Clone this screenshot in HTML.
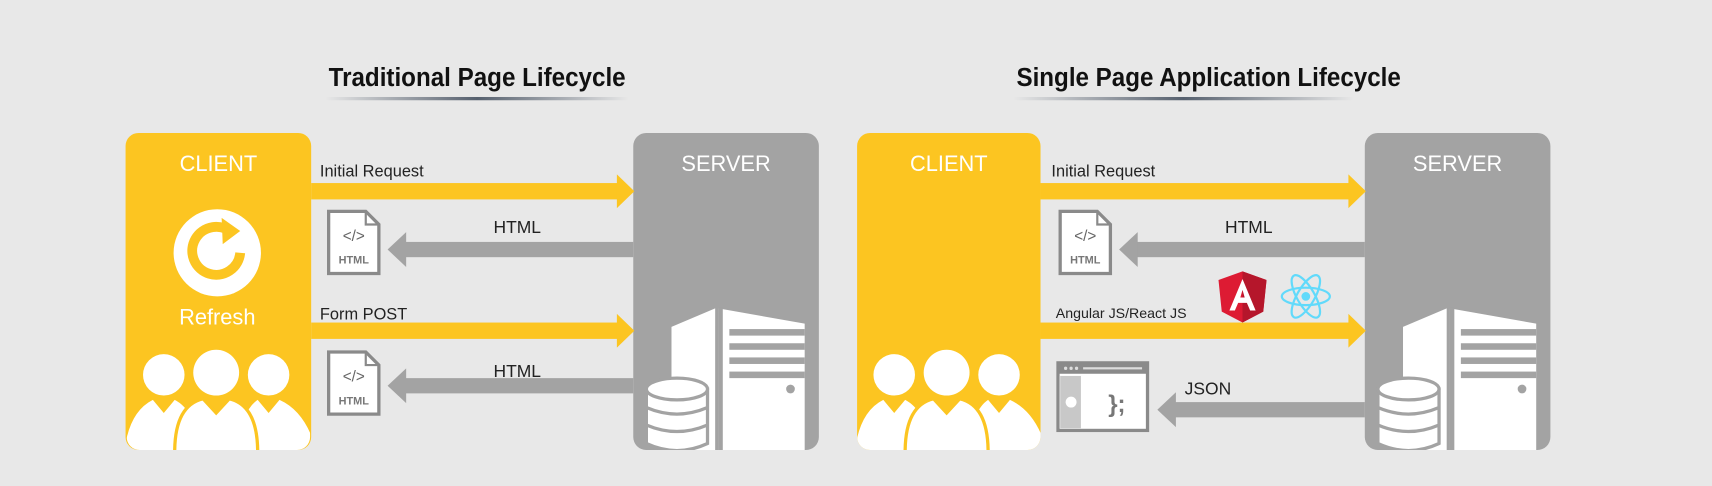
<!DOCTYPE html>
<html><head><meta charset="utf-8"><style>
html,body{margin:0;padding:0;background:#e8e8e8;}
svg{display:block}
</style></head><body>
<svg width="1712" height="486" viewBox="0 0 1568 446" preserveAspectRatio="none" xmlns="http://www.w3.org/2000/svg" font-family="Liberation Sans, sans-serif">
<defs>
<linearGradient id="ul" x1="0" x2="1" y1="0" y2="0">
<stop offset="0" stop-color="#e8e8e8"/><stop offset="0.5" stop-color="#56606e"/><stop offset="1" stop-color="#e8e8e8"/>
</linearGradient>
<clipPath id="box"><rect x="0" y="0" width="168" height="291" rx="12"/></clipPath>
<clipPath id="sbox"><rect x="0" y="0" width="170" height="291" rx="12"/></clipPath>
<g id="doc">
<path d="M0 0 H34 L46 12 V57 H0 Z" fill="#fff" stroke="#8a8a8a" stroke-width="3"/>
<path d="M34 0 V12 H46" fill="none" stroke="#8a8a8a" stroke-width="2"/>
<text x="23" y="27" text-anchor="middle" font-size="14" fill="#666">&lt;/&gt;</text>
<text x="23" y="48" text-anchor="middle" font-size="10" font-weight="bold" fill="#777">HTML</text>
</g>
<g id="people">
<g clip-path="url(#box)">
<circle cx="34" cy="222" r="19" fill="#fff"/>
<circle cx="82" cy="220" r="21" fill="#fff"/>
<circle cx="130" cy="222" r="19" fill="#fff"/>
<path d="M0 291 V280 Q6 254 24 245 L34 257 L44 245 Q62 254 70 291 Z" fill="#fff"/>
<path d="M100 291 Q106 254 120 245 L130 257 L140 245 Q160 254 170 280 V291 Z" fill="#fff"/>
<path d="M44 293 Q44 250 70 244 L82 257 L94 244 Q120 250 120 293 Z" fill="#fff" stroke="#fcc521" stroke-width="3"/>
</g>
</g>
<g id="server">
<rect x="0" y="0" width="170" height="291" rx="12" fill="#a3a3a3"/>
<text x="85" y="35" text-anchor="middle" font-size="20" fill="#fff">SERVER</text>
<g clip-path="url(#sbox)">
<path d="M35 178 L75 161 V291 H35 Z" fill="#fff"/>
<path d="M78 161 L157 175 V291 H78 Z" fill="#fff"/>
<rect x="88" y="180" width="69" height="6" fill="#a3a3a3"/>
<rect x="88" y="193" width="69" height="6" fill="#a3a3a3"/>
<rect x="88" y="206" width="69" height="6" fill="#a3a3a3"/>
<rect x="88" y="219" width="69" height="6" fill="#a3a3a3"/>
<rect x="78" y="160" width="4" height="131" fill="#a3a3a3"/>
<circle cx="144" cy="235" r="4" fill="#a3a3a3"/>
<g fill="#fff" stroke="#a3a3a3" stroke-width="3">
<path d="M12 235 V285 Q40 298 68 285 V235 Z"/>
<ellipse cx="40" cy="235" rx="28" ry="10"/>
<path d="M12 252 Q40 264 68 252" fill="none"/>
<path d="M12 268 Q40 280 68 268" fill="none"/>
</g>
</g>
</g>
</defs>
<rect width="1568" height="446" fill="#e8e8e8"/>

<text x="437" y="79" text-anchor="middle" font-size="24" font-weight="bold" fill="#111" textLength="272" lengthAdjust="spacingAndGlyphs">Traditional Page Lifecycle</text>
<rect x="298" y="89" width="278" height="3" fill="url(#ul)"/>
<text x="1107" y="79" text-anchor="middle" font-size="24" font-weight="bold" fill="#111" textLength="352" lengthAdjust="spacingAndGlyphs">Single Page Application Lifecycle</text>
<rect x="928" y="89" width="312" height="3" fill="url(#ul)"/>

<!-- LEFT -->
<rect x="115" y="122" width="170" height="291" rx="12" fill="#fcc521"/>
<text x="200" y="157" text-anchor="middle" font-size="20" fill="#fff">CLIENT</text>
<circle cx="199" cy="232" r="40" fill="#fff"/>
<path d="M213 214 A22 22 0 1 0 220 232" fill="none" stroke="#fcc521" stroke-width="9"/>
<path d="M203 200 L220 212 L204 224 Z" fill="#fcc521"/>
<text x="199" y="298" text-anchor="middle" font-size="20" fill="#fff">Refresh</text>
<use href="#people" x="116" y="122"/>
<use href="#server" x="580" y="122"/>

<text x="293" y="162" font-size="15" fill="#222">Initial Request</text>
<rect x="285" y="168" width="282" height="15" fill="#fcc521"/><path d="M565 160 L581 175.5 L565 191 Z" fill="#fcc521"/>
<text x="452" y="214" font-size="16" fill="#222">HTML</text>
<rect x="370" y="222" width="210" height="14" fill="#a3a3a3"/><path d="M372 213 L355 229 L372 245 Z" fill="#a3a3a3"/>
<use href="#doc" x="301" y="194"/>
<text x="293" y="293" font-size="15" fill="#222">Form POST</text>
<rect x="285" y="296" width="282" height="15" fill="#fcc521"/><path d="M565 288 L581 303.5 L565 319 Z" fill="#fcc521"/>
<text x="452" y="346" font-size="16" fill="#222">HTML</text>
<rect x="370" y="347" width="210" height="14" fill="#a3a3a3"/><path d="M372 338 L355 354 L372 370 Z" fill="#a3a3a3"/>
<use href="#doc" x="301" y="323"/>

<!-- RIGHT -->
<rect x="785" y="122" width="168" height="291" rx="12" fill="#fcc521"/>
<text x="869" y="157" text-anchor="middle" font-size="20" fill="#fff">CLIENT</text>
<use href="#people" x="785" y="122"/>
<use href="#server" x="1250" y="122"/>

<text x="963" y="162" font-size="15" fill="#222">Initial Request</text>
<rect x="953" y="168" width="284" height="15" fill="#fcc521"/><path d="M1235 160 L1251 175.5 L1235 191 Z" fill="#fcc521"/>
<text x="1122" y="214" font-size="16" fill="#222">HTML</text>
<rect x="1040" y="222" width="210" height="14" fill="#a3a3a3"/><path d="M1042 213 L1025 229 L1042 245 Z" fill="#a3a3a3"/>
<use href="#doc" x="971" y="194"/>

<text x="967" y="292" font-size="13" fill="#222">Angular JS/React JS</text>
<rect x="953" y="296" width="284" height="15" fill="#fcc521"/><path d="M1235 288 L1251 303.5 L1235 319 Z" fill="#fcc521"/>
<path d="M1138 249 L1160 257 L1157 286 L1138 296 L1119 286 L1116 257 Z" fill="#dd1b33"/>
<path d="M1138 249 L1160 257 L1157 286 L1138 296 Z" fill="#b5162b"/>
<path d="M1138 256 L1126 285 H1131 L1134 278 H1142 L1145 285 H1150 Z M1136 273 L1138 266 L1140 273 Z" fill="#fff" fill-rule="evenodd"/>
<g transform="translate(1196 272)" fill="none" stroke="#61dafb" stroke-width="2">
<ellipse rx="22" ry="8"/><ellipse rx="22" ry="8" transform="rotate(60)"/><ellipse rx="22" ry="8" transform="rotate(120)"/>
<circle r="4" fill="#61dafb" stroke="none"/>
</g>
<rect x="969" y="333" width="82" height="62" fill="#fff" stroke="#8a8a8a" stroke-width="3"/>
<rect x="969" y="333" width="82" height="10" fill="#8a8a8a"/>
<circle cx="976" cy="338" r="1.5" fill="#ddd"/><circle cx="981" cy="338" r="1.5" fill="#ddd"/><circle cx="986" cy="338" r="1.5" fill="#ddd"/>
<rect x="992" y="337" width="54" height="2" fill="#ddd"/>
<rect x="971" y="345" width="19" height="48" fill="#c8c8c8"/>
<circle cx="981" cy="369" r="5" fill="#fff"/>
<text x="1015" y="378" font-size="22" font-weight="bold" fill="#777">};</text>
<text x="1085" y="362" font-size="16" fill="#222">JSON</text>
<rect x="1075" y="369" width="175" height="14" fill="#a3a3a3"/><path d="M1077 360 L1060 376 L1077 392 Z" fill="#a3a3a3"/>
</svg>
</body></html>
